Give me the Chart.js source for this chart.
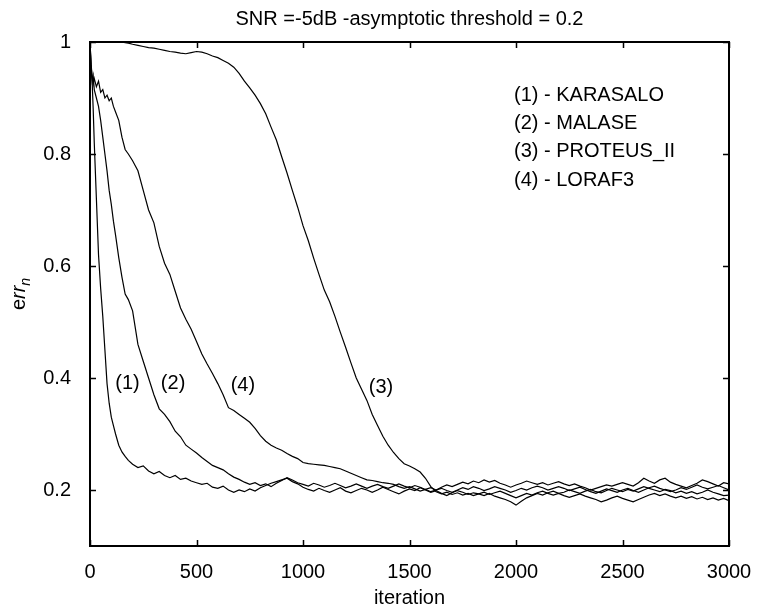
<!DOCTYPE html>
<html>
<head>
<meta charset="utf-8">
<script src="https://cdn.jsdelivr.net/npm/chart.js@4.4.1/dist/chart.umd.min.js"></script>
<style>
  html, body { margin: 0; padding: 0; background: #fff; }
  #wrap { width: 758px; height: 608px; }
</style>
</head>
<body>
<div id="wrap"><canvas id="err-chart" width="758" height="608"></canvas></div>
<script>
// iteration index shared by all four curves
const iterations = [
  0, 5, 10, 15, 20, 30, 40, 50, 60, 70, 80, 90, 100, 110, 120, 135, 150, 165, 180, 200,
  225, 250, 275, 300, 325, 350, 375, 400, 425, 450,
  475, 500, 525, 550, 575, 600, 625, 650, 675, 700,
  725, 750, 775, 800, 825, 850, 875, 900, 925, 950,
  975, 1000, 1025, 1050, 1075, 1100, 1125, 1150, 1175, 1200,
  1225, 1250, 1275, 1300, 1325, 1350, 1375, 1400, 1425, 1450,
  1475, 1500, 1525, 1550, 1575, 1600, 1625, 1650, 1675, 1700,
  1725, 1750, 1775, 1800, 1825, 1850, 1875, 1900, 1925, 1950,
  1975, 2000, 2025, 2050, 2075, 2100, 2125, 2150, 2175, 2200,
  2225, 2250, 2275, 2300, 2325, 2350, 2375, 2400, 2425, 2450,
  2475, 2500, 2525, 2550, 2575, 2600, 2625, 2650, 2675, 2700,
  2725, 2750, 2775, 2800, 2825, 2850, 2875, 2900, 2925, 2950,
  2975, 3000
];

// (1) KARASALO
const karasalo = [
  1.0, 0.96, 0.93, 0.88, 0.82, 0.72, 0.62, 0.56, 0.51, 0.45, 0.39, 0.355, 0.33, 0.315, 0.3, 0.28, 0.268, 0.26, 0.253, 0.246,
  0.24, 0.243, 0.234, 0.229, 0.233, 0.226, 0.222, 0.226, 0.219, 0.221,
  0.216, 0.213, 0.21, 0.212, 0.205, 0.203, 0.207, 0.2, 0.196, 0.2,
  0.197, 0.202, 0.198, 0.204, 0.208, 0.212, 0.215, 0.218, 0.221, 0.215,
  0.211,
  0.205, 0.201, 0.198, 0.203, 0.199, 0.196, 0.2, 0.204, 0.198, 0.195,
  0.199, 0.203, 0.2, 0.196, 0.2, 0.205, 0.201, 0.197, 0.193, 0.198,
  0.202, 0.199, 0.204, 0.2, 0.196, 0.199, 0.194, 0.19, 0.195, 0.199,
  0.196, 0.192, 0.195, 0.193, 0.19, 0.194, 0.189, 0.186, 0.183, 0.179,
  0.173, 0.18, 0.186, 0.19, 0.194, 0.191, 0.195, 0.198, 0.194, 0.196,
  0.2, 0.197, 0.194, 0.198, 0.201, 0.197, 0.195, 0.199, 0.203, 0.2,
  0.197, 0.201, 0.198, 0.202, 0.206, 0.203, 0.2, 0.197, 0.201, 0.199,
  0.195, 0.198, 0.194, 0.197, 0.193, 0.196, 0.2, 0.196, 0.193, 0.19,
  0.191
];

// (2) MALASE
const malase = [
  1.0, 0.95, 0.93, 0.94, 0.915, 0.9, 0.885, 0.86, 0.83, 0.8, 0.77, 0.735, 0.71, 0.68, 0.655, 0.615, 0.58, 0.55, 0.54, 0.52,
  0.46, 0.43, 0.4, 0.37, 0.345, 0.335, 0.322, 0.305, 0.295, 0.28,
  0.273, 0.266, 0.258, 0.251, 0.244, 0.24, 0.236, 0.229, 0.223, 0.219,
  0.214, 0.21, 0.213, 0.208, 0.211, 0.206, 0.212, 0.217, 0.222, 0.218,
  0.213,
  0.21, 0.207, 0.212, 0.209, 0.205, 0.208, 0.212, 0.208, 0.204, 0.207,
  0.211, 0.207, 0.203, 0.207, 0.21, 0.206, 0.203, 0.207, 0.211, 0.207,
  0.204, 0.208, 0.205, 0.201, 0.204, 0.2, 0.205, 0.209, 0.206, 0.21,
  0.214, 0.211, 0.216, 0.213, 0.218, 0.214, 0.217, 0.212, 0.209, 0.205,
  0.209, 0.212, 0.216, 0.213, 0.21, 0.213, 0.209, 0.212, 0.215, 0.211,
  0.208, 0.211, 0.207, 0.204, 0.2, 0.203, 0.206, 0.209, 0.207, 0.21,
  0.213, 0.21, 0.207, 0.213, 0.221, 0.216, 0.212, 0.218, 0.221, 0.214,
  0.21, 0.207, 0.204, 0.208, 0.212, 0.218, 0.215, 0.211, 0.207, 0.213,
  0.211
];

// (3) PROTEUS_II
const proteus = [
  1, 1, 1, 1, 1, 1, 1, 1, 1, 1, 1, 1, 1, 1, 1, 1, 1, 0.999, 0.998, 0.996,
  0.994, 0.992, 0.99, 0.989, 0.987, 0.985, 0.983, 0.982, 0.98, 0.979,
  0.981, 0.983, 0.982, 0.979, 0.975, 0.972, 0.967, 0.962, 0.955, 0.944,
  0.93, 0.918, 0.905, 0.89, 0.872, 0.848, 0.825, 0.795, 0.766, 0.735,
  0.705, 0.672, 0.645, 0.614, 0.585, 0.557, 0.536, 0.51, 0.482, 0.455,
  0.427, 0.4, 0.38, 0.36, 0.335, 0.315, 0.296, 0.28, 0.267, 0.256,
  0.247, 0.243, 0.238, 0.232, 0.221, 0.206,
  0.197, 0.193, 0.196, 0.192, 0.195, 0.191, 0.194, 0.19, 0.193, 0.196,
  0.192, 0.195, 0.198, 0.194, 0.19, 0.186, 0.19, 0.194, 0.191, 0.195,
  0.198, 0.194, 0.191, 0.194, 0.19, 0.187, 0.19, 0.193, 0.189, 0.186,
  0.183, 0.179, 0.182, 0.186, 0.189, 0.185, 0.182, 0.179, 0.183, 0.187,
  0.191, 0.194, 0.19, 0.193, 0.189, 0.186, 0.189, 0.185, 0.188, 0.184,
  0.187, 0.183, 0.186, 0.182, 0.185, 0.181
];

// (4) LORAF3
const loraf3 = [
  1.0, 0.96, 0.94, 0.925, 0.935, 0.92, 0.93, 0.91, 0.915, 0.9, 0.905, 0.895, 0.9, 0.885, 0.875, 0.86, 0.83, 0.808, 0.8, 0.788,
  0.77, 0.735, 0.7, 0.677, 0.635, 0.605, 0.585, 0.555, 0.525, 0.505,
  0.487, 0.465, 0.443, 0.425, 0.408, 0.39, 0.37, 0.347, 0.342, 0.335,
  0.328, 0.321, 0.31, 0.297, 0.287, 0.28, 0.275, 0.271, 0.265, 0.26,
  0.256, 0.249, 0.247, 0.246, 0.245, 0.244, 0.242, 0.24, 0.238, 0.234,
  0.23, 0.226, 0.222, 0.218, 0.217, 0.215, 0.213,
  0.212, 0.21, 0.206, 0.203, 0.206, 0.202, 0.198, 0.201, 0.197, 0.2,
  0.203, 0.199, 0.196, 0.2, 0.204, 0.201, 0.206, 0.203, 0.199, 0.202,
  0.206, 0.203, 0.2, 0.196, 0.199, 0.203, 0.2, 0.204, 0.207, 0.204,
  0.2, 0.203, 0.206, 0.203, 0.199, 0.202, 0.205, 0.201, 0.197, 0.194,
  0.198, 0.202, 0.199, 0.196, 0.2, 0.203, 0.199, 0.196, 0.2, 0.204,
  0.207, 0.203, 0.2, 0.197, 0.2, 0.204, 0.201, 0.205, 0.209, 0.205,
  0.202, 0.205, 0.208, 0.204, 0.2
];

const seriesNames = ['(1) - KARASALO', '(2) - MALASE', '(3) - PROTEUS_II', '(4) - LORAF3'];
const curveTags = ['(1)', '(2)', '(3)', '(4)'];
// where each tag sits, in data units
const tagIteration = [176, 390, 1366, 718];
const tagErr = [0.391, 0.391, 0.383, 0.387];

const xTicks = [0, 500, 1000, 1500, 2000, 2500, 3000];
const yTicks = [0.2, 0.4, 0.6, 0.8, 1];

const titleText = 'SNR =-5dB -asymptotic threshold = 0.2';
const xLabel = 'iteration';

const FONT = '"Liberation Sans", Arial, Helvetica, sans-serif';

function toPoints(values) {
    return values.map((v, i) => ({ x: iterations[i], y: v }));
}

const gnuplotFrame = {
    id: 'gnuplotFrame',
    afterDraw(chart) {
        const ctx = chart.ctx;
        const a = chart.chartArea;
        const x = chart.scales.x;
        const y = chart.scales.y;
        ctx.save();
        ctx.strokeStyle = '#000';
        ctx.fillStyle = '#000';

        // inward ticks on all four sides
        ctx.lineWidth = 1.5;
        ctx.beginPath();
        xTicks.forEach(v => {
            const px = Math.round(x.getPixelForValue(v)) + 0.5;
            ctx.moveTo(px, a.bottom); ctx.lineTo(px, a.bottom - 6);
            ctx.moveTo(px, a.top); ctx.lineTo(px, a.top + 6);
        });
        yTicks.forEach(v => {
            const py = Math.round(y.getPixelForValue(v)) + 0.5;
            ctx.moveTo(a.left, py); ctx.lineTo(a.left + 6, py);
            ctx.moveTo(a.right, py); ctx.lineTo(a.right - 6, py);
        });
        ctx.stroke();

        ctx.lineWidth = 2;
        ctx.strokeRect(a.left, a.top, a.right - a.left, a.bottom - a.top);

        // title and x label
        ctx.font = '20px ' + FONT;
        ctx.textAlign = 'center';
        ctx.textBaseline = 'alphabetic';
        const cx = (a.left + a.right) / 2;
        ctx.fillText(titleText, cx, 25);
        ctx.fillText(xLabel, cx, 604);

        // y label: e + italic rr + subscript n, rotated
        ctx.save();
        ctx.translate(25, (a.top + a.bottom) / 2);
        ctx.rotate(-Math.PI / 2);
        ctx.textAlign = 'left';
        ctx.font = '20px ' + FONT;
        const wE = ctx.measureText('e').width;
        ctx.font = 'italic 20px ' + FONT;
        const wR = ctx.measureText('rr').width;
        ctx.font = 'italic 14px ' + FONT;
        const wN = ctx.measureText('n').width;
        let sx = -(wE + wR + wN) / 2;
        ctx.font = '20px ' + FONT;
        ctx.fillText('e', sx, 0);
        sx += wE;
        ctx.font = 'italic 20px ' + FONT;
        ctx.fillText('rr', sx, 0);
        sx += wR;
        ctx.font = 'italic 14px ' + FONT;
        ctx.fillText('n', sx, 5);
        ctx.restore();

        // key text (no samples)
        ctx.font = '20px ' + FONT;
        ctx.textAlign = 'left';
        ctx.textBaseline = 'middle';
        seriesNames.forEach((name, i) => {
            ctx.fillText(name, 514, 95 + i * 28.4);
        });

        // curve tags
        ctx.textAlign = 'center';
        curveTags.forEach((t, i) => {
            ctx.fillText(t, x.getPixelForValue(tagIteration[i]), y.getPixelForValue(tagErr[i]));
        });
        ctx.restore();
    }
};

const ctx = document.getElementById('err-chart').getContext('2d');
const curves = [karasalo, malase, proteus, loraf3];

new Chart(ctx, {
    type: 'line',
    data: {
        datasets: curves.map((vals, i) => ({
            label: seriesNames[i],
            data: toPoints(vals),
            borderColor: '#000',
            borderWidth: 1.2,
            pointRadius: 0,
            tension: 0,
            fill: false
        }))
    },
    options: {
        responsive: false,
        animation: false,
        devicePixelRatio: 1,
        layout: { padding: { top: 42, right: 29, left: 0, bottom: 0 } },
        plugins: {
            legend: { display: false },
            title: { display: false },
            tooltip: { enabled: false }
        },
        scales: {
            x: {
                type: 'linear',
                min: 0,
                max: 3000,
                grid: { display: false },
                border: { display: false },
                afterBuildTicks: s => { s.ticks = xTicks.map(v => ({ value: v })); },
                afterFit: s => { s.height = 62; },
                ticks: {
                    color: '#000',
                    padding: 6,
                    maxRotation: 0,
                    font: { family: FONT, size: 20 },
                    callback: v => String(v)
                }
            },
            y: {
                min: 0.1,
                max: 1,
                grid: { display: false },
                border: { display: false },
                afterBuildTicks: s => { s.ticks = yTicks.map(v => ({ value: v })); },
                afterFit: s => { s.width = 90; },
                ticks: {
                    color: '#000',
                    padding: 11,
                    font: { family: FONT, size: 20 },
                    callback: v => String(v)
                }
            }
        }
    },
    plugins: [gnuplotFrame]
});
</script>
</body>
</html>
